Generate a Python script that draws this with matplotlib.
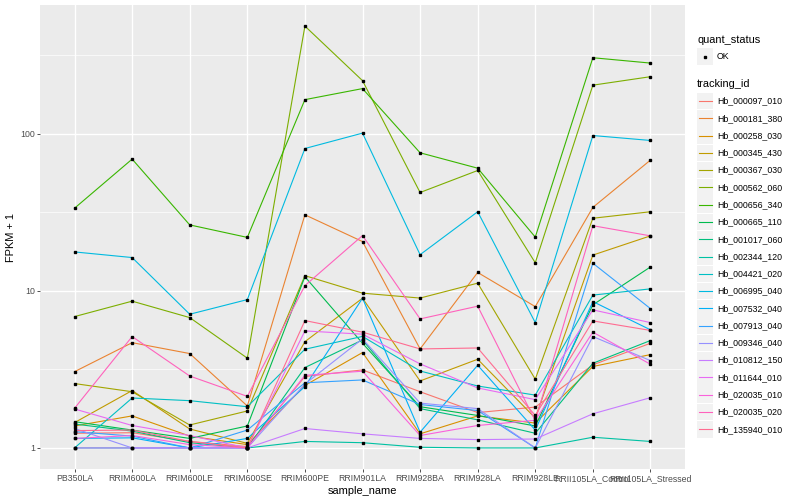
import matplotlib
matplotlib.use("Agg")
import matplotlib.pyplot as plt
from matplotlib.patches import Rectangle
from matplotlib.lines import Line2D

plt.rcParams['font.family'] = ['Liberation Sans', 'DejaVu Sans']

# samples on the x axis
samples = ["PB350LA", "RRIM600LA", "RRIM600LE", "RRIM600SE", "RRIM600PE", "RRIM901LA",
           "RRIM928BA", "RRIM928LA", "RRIM928LE", "RRII105LA_Control", "RRII105LA_Stressed"]

tracking_ids = ["Hb_000097_010", "Hb_000181_380", "Hb_000258_030", "Hb_000345_430",
                "Hb_000367_030", "Hb_000562_060", "Hb_000656_340", "Hb_000665_110",
                "Hb_001017_060", "Hb_002344_120", "Hb_004421_020", "Hb_006995_040",
                "Hb_007532_040", "Hb_007913_040", "Hb_009346_040", "Hb_010812_150",
                "Hb_011644_010", "Hb_020035_010", "Hb_020035_020", "Hb_135940_010"]

# FPKM + 1 per gene, in the order of samples
hb_000097_010 = [1.24, 1.25, 1.10, 1.02, 2.85, 3.14, 2.28, 1.68, 1.82, 3.38, 4.64]
hb_000181_380 = [3.06, 4.68, 3.99, 1.85, 30.5, 20.6, 4.27, 13.1, 7.94, 34, 68]
hb_000258_030 = [1.38, 1.60, 1.19, 1.05, 2.50, 4.05, 1.23, 1.60, 1.44, 3.30, 3.93]
hb_000345_430 = [1.45, 2.32, 1.32, 1.07, 4.75, 8.98, 2.67, 3.67, 1.55, 16.9, 22.4]
hb_000367_030 = [2.57, 2.28, 1.40, 1.72, 12.5, 9.67, 9.0, 11.2, 2.74, 29, 31.9]
hb_000562_060 = [6.86, 8.6, 6.76, 3.73, 485, 218, 42.3, 58.4, 15.1, 204, 231]
hb_000656_340 = [33.6, 69, 26.3, 21.9, 165, 194, 75.7, 60.4, 22, 305, 282]
hb_000665_110 = [1.47, 1.30, 1.15, 1.38, 12.3, 4.64, 1.83, 1.61, 1.38, 8.15, 14.2]
hb_001017_060 = [1.42, 1.28, 1.08, 1.0, 3.25, 4.87, 1.78, 1.51, 1.24, 3.46, 4.83]
hb_002344_120 = [1.0, 1.0, 1.0, 1.0, 1.10, 1.08, 1.01, 1.0, 1.0, 1.17, 1.10]
hb_004421_020 = [1.0, 2.08, 2.0, 1.83, 4.25, 5.13, 3.09, 2.48, 2.17, 9.4, 10.3]
hb_006995_040 = [17.7, 16.3, 7.1, 8.8, 80.6, 101, 17.0, 31.9, 6.28, 97.5, 90.7]
hb_007532_040 = [1.15, 1.16, 1.0, 1.15, 2.46, 8.98, 1.26, 3.36, 1.30, 8.55, 5.65]
hb_007913_040 = [1.27, 1.19, 1.0, 1.30, 2.60, 2.71, 1.89, 1.73, 1.0, 15.0, 7.71]
hb_009346_040 = [1.33, 1.0, 1.0, 1.0, 2.55, 4.95, 1.93, 1.78, 1.0, 5.12, 3.6]
hb_010812_150 = [1.0, 1.0, 1.0, 1.0, 1.33, 1.23, 1.15, 1.13, 1.14, 1.65, 2.09]
hb_011644_010 = [1.77, 1.39, 1.20, 1.0, 5.56, 5.30, 3.43, 2.41, 2.03, 7.57, 6.28]
hb_020035_010 = [1.15, 1.20, 1.05, 1.0, 2.90, 3.08, 1.20, 1.39, 1.50, 5.46, 3.41]
hb_020035_020 = [1.79, 5.12, 2.87, 2.13, 10.8, 22.5, 6.63, 7.99, 1.49, 26, 22.4]
hb_135940_010 = [1.29, 1.30, 1.10, 1.0, 6.47, 5.46, 4.27, 4.33, 1.61, 6.44, 5.6]

series = [hb_000097_010, hb_000181_380, hb_000258_030, hb_000345_430, hb_000367_030,
          hb_000562_060, hb_000656_340, hb_000665_110, hb_001017_060, hb_002344_120,
          hb_004421_020, hb_006995_040, hb_007532_040, hb_007913_040, hb_009346_040,
          hb_010812_150, hb_011644_010, hb_020035_010, hb_020035_020, hb_135940_010]

# ggplot default hue palette for 20 levels
colors = ["#F8766D", "#EA8331", "#D89000", "#C09B00", "#A3A500", "#7CAE00", "#39B600",
          "#00BB4E", "#00BF7D", "#00C1A3", "#00BFC4", "#00BAE0", "#00B0F6", "#35A2FF",
          "#9590FF", "#C77CFF", "#E76BF3", "#FA62DB", "#FF62BC", "#FF6C91"]

W, H = 800, 500
fig = plt.figure(figsize=(8, 5), dpi=100)
ax = fig.add_axes([40 / W, 31 / H, 645 / W, 464 / H])
ax.set_facecolor("#EBEBEB")

x = list(range(len(samples)))
for vals, col in zip(series, colors):
    ax.plot(x, vals, color=col, lw=0.8, zorder=3)
for vals in series:
    ax.plot(x, vals, ls="none", marker="s", ms=2.0, color="black", zorder=4)

ax.set_yscale("log")
ax.set_ylim(10 ** -0.134, 10 ** 2.82)
ax.set_xlim(-0.6, len(samples) - 0.4)
ax.set_xticks(x)
ax.set_xticklabels(samples)
ax.set_yticks([1, 10, 100])
ax.set_yticklabels(["1", "10", "100"])
ax.set_yticks([10 ** 0.5, 10 ** 1.5, 10 ** 2.5], minor=True)
ax.yaxis.set_minor_formatter(matplotlib.ticker.NullFormatter())
ax.tick_params(axis="y", which="minor", length=0)
ax.tick_params(which="major", length=2, width=0.6, color="#333333",
               labelsize=6.3, labelcolor="#4D4D4D", pad=1.5)
ax.grid(which="major", color="white", lw=1.0, zorder=0)
ax.grid(which="minor", axis="y", color="white", lw=0.5, zorder=0)
ax.set_axisbelow(True)
for s in ax.spines.values():
    s.set_visible(False)

ax.set_xlabel("sample_name", fontsize=7.9, labelpad=2)
ax.set_ylabel("FPKM + 1", fontsize=7.9, labelpad=3)


def fx(px):
    return px / W


def fy(py):
    return 1 - py / H


# legend: quant_status
fig.text(fx(697), fy(40), "quant_status", fontsize=7.9, va="center", ha="left")
fig.add_artist(Rectangle((fx(697), fy(65)), 16 / W, 17 / H, transform=fig.transFigure,
                         facecolor="#F2F2F2", edgecolor="none"))
fig.add_artist(Line2D([fx(705)], [fy(56.5)], marker="s", ms=2.0, color="black",
                      transform=fig.transFigure))
fig.text(fx(717), fy(56.5), "OK", fontsize=6.3, va="center", ha="left")

# legend: tracking_id
fig.text(fx(697), fy(84), "tracking_id", fontsize=7.9, va="center", ha="left")
for i, (name, col) in enumerate(zip(tracking_ids, colors)):
    yc = 101 + i * 17.28
    fig.add_artist(Rectangle((fx(697), fy(yc + 8.3)), 16 / W, 16.6 / H,
                             transform=fig.transFigure, facecolor="#F2F2F2", edgecolor="none"))
    fig.add_artist(Line2D([fx(698.5), fx(711.5)], [fy(yc), fy(yc)], color=col, lw=0.8,
                          transform=fig.transFigure))
    fig.text(fx(717), fy(yc), name, fontsize=6.3, va="center", ha="left")

fig.savefig("out.png", dpi=100)
